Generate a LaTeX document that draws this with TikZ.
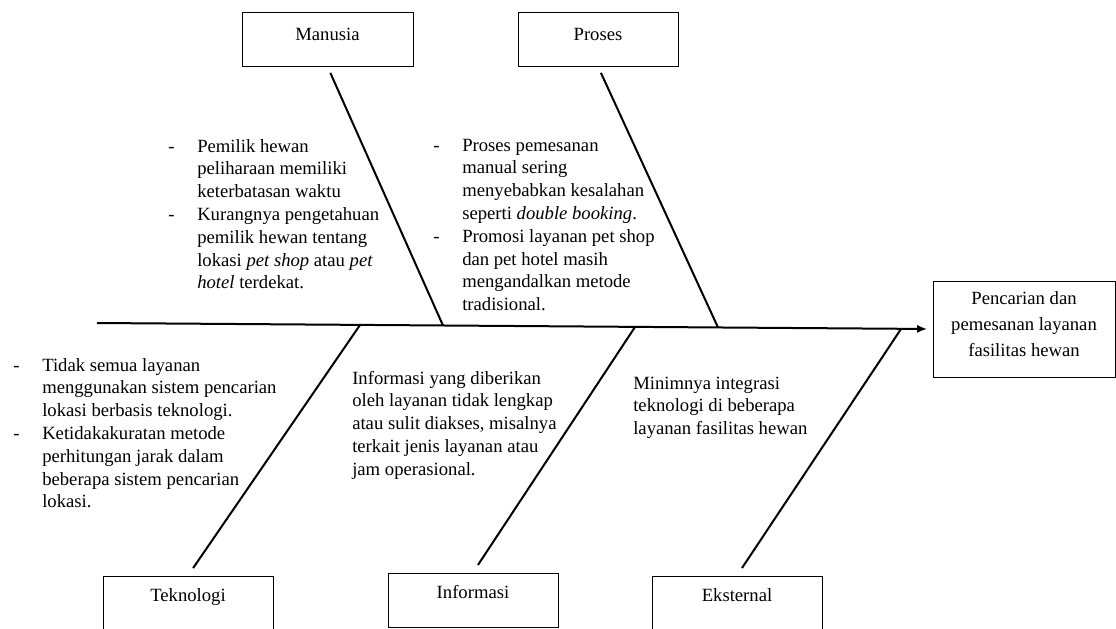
\documentclass[tikz,border=0pt]{standalone}
\usepackage{fontspec}
\setmainfont{Liberation Serif}
\usetikzlibrary{arrows.meta}

\newcommand{\causelist}[1]{\begin{tabular}[t]{@{}p{21.75pt}@{}l@{}}#1\end{tabular}}
\newcommand{\causeplain}[1]{\begin{tabular}[t]{@{}l@{}}#1\end{tabular}}

\tikzset{
    catbox/.style={draw, line width=0.75pt, minimum width=127.5pt, inner sep=0pt, text height=19pt, text depth=21.5pt},
    causetext/.style={anchor=base west, inner sep=0pt},
    bone/.style={line width=1.5pt},
}

\begin{document}
\begin{tikzpicture}[x=0.75pt, y=-0.75pt, font=\fontsize{14}{17.1}\selectfont]
    \useasboundingbox (0,0) rectangle (1116,628);
    \clip (0,0) rectangle (1116,628);

    % kategori
    \node[catbox, minimum width=128.25pt, text height=21pt, text depth=19.5pt] (manusia) at (327.5,39) {Manusia};
    \node[catbox, minimum width=120pt, text height=21pt, text depth=19.5pt] (proses) at (598,39) {Proses};
    \node[catbox] (teknologi) at (188,603) {Teknologi};
    \node[catbox] (informasi) at (473,600) {Informasi};
    \node[catbox] (eksternal) at (737,603) {Eksternal};

    \node[draw, line width=0.75pt, minimum width=136.5pt, inner sep=0pt,
          text height=17.25pt, text depth=54.75pt,
          font=\fontsize{14}{19.5}\selectfont] (effect) at (1024,329)
          {\begin{tabular}[t]{@{}c@{}}Pencarian dan\\ pemesanan layanan\\ fasilitas hewan\end{tabular}};

    % tulang utama
    \coordinate (tail) at (97,323);
    \coordinate (jm) at (443,325.5);
    \coordinate (jp) at (718,327.5);
    \coordinate (jt) at (360,325);
    \coordinate (ji) at (635,327);
    \coordinate (je) at (901,329);

    \draw[bone, -{Latex[length=7.5pt,width=6pt]}, shorten >=4pt] (tail) -- (effect.west);

    \draw[bone, shorten <=5.25pt] (manusia.south) -- (jm);
    \draw[bone, shorten <=5.25pt] (proses.south) -- (jp);
    \draw[bone, shorten >=6.75pt] (jt) -- (teknologi.north);
    \draw[bone, shorten >=6.75pt] (ji) -- (informasi.north);
    \draw[bone, shorten >=6.75pt] (je) -- (eksternal.north);

    % penyebab
    \node[causetext] (cmanusia) at (168,152) {\causelist{%
        - & Pemilik hewan\\
          & peliharaan memiliki\\
          & keterbatasan waktu\\
        - & Kurangnya pengetahuan\\
          & pemilik hewan tentang\\
          & lokasi \textit{pet shop} atau \textit{pet}\\
          & \textit{hotel} terdekat.}};
    \node[causetext] (cproses) at (433,151) {\causelist{%
        - & Proses pemesanan\\
          & manual sering\\
          & menyebabkan kesalahan\\
          & seperti \textit{double booking}.\\
        - & Promosi layanan pet shop\\
          & dan pet hotel masih\\
          & mengandalkan metode\\
          & tradisional.}};
    \node[causetext] (cteknologi) at (13,371) {\causelist{%
        - & Tidak semua layanan\\
          & menggunakan sistem pencarian\\
          & lokasi berbasis teknologi.\\
        - & Ketidakakuratan metode\\
          & perhitungan jarak dalam\\
          & beberapa sistem pencarian\\
          & lokasi.}};
    \node[causetext] (cinformasi) at (352,384) {\causeplain{%
        Informasi yang diberikan\\
        oleh layanan tidak lengkap\\
        atau sulit diakses, misalnya\\
        terkait jenis layanan atau\\
        jam operasional.}};
    \node[causetext] (ceksternal) at (633,389) {\causeplain{%
        Minimnya integrasi\\
        teknologi di beberapa\\
        layanan fasilitas hewan}};
\end{tikzpicture}
\end{document}
